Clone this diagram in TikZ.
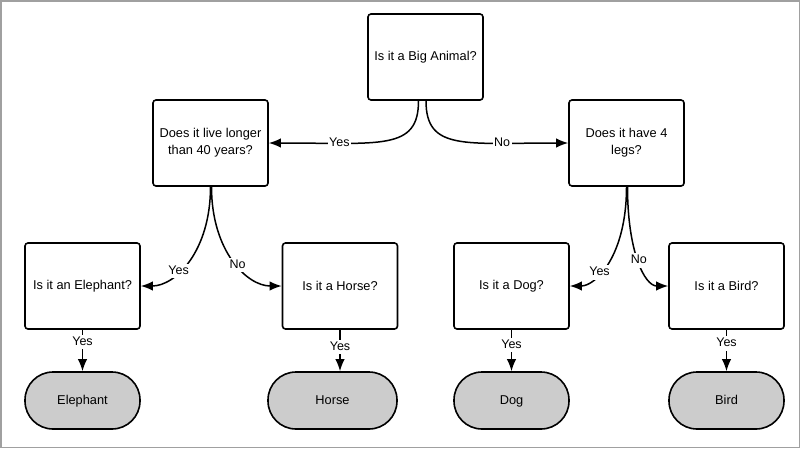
\documentclass[tikz,border=0pt]{standalone}
\usepackage{fontspec}
\setmainfont{Liberation Sans}
\usetikzlibrary{arrows.meta}
\definecolor{termgray}{RGB}{204,204,204}
\definecolor{framegray}{RGB}{160,160,160}

\begin{document}
\begin{tikzpicture}[x=1pt,y=-1pt,
        question/.style={draw,line width=1.6pt,rounded corners=3pt,minimum width=115pt,minimum height=86pt,align=center,font=\fontsize{12.8}{17}\selectfont},
        answer/.style={draw,line width=1.6pt,fill=termgray,rounded corners=28pt,minimum width=115pt,minimum height=57pt,text height=9.5pt,text depth=2.5pt,font=\fontsize{12.8}{15}\selectfont},
        link/.style={line width=1.5pt,-{Latex[length=12pt,width=9.5pt]}},
        choice/.style={fill=white,inner sep=1.5pt,text height=9pt,text depth=2.5pt,font=\fontsize{12.5}{14}\selectfont}]
        \useasboundingbox (0,0) rectangle (800,448);
        \draw[framegray,line width=1.5pt] (0.75,0.75) rectangle (799.25,447.25);
        \node[question] (big) at (425.5,57) {Is it a Big Animal?};
        \node[question] (old) at (210.5,143) {Does it live longer\\than 40 years?};
        \node[question] (legs) at (626.5,143) {Does it have 4\\legs?};
        \node[question] (eleq) at (82.5,286) {Is it an Elephant?};
        \node[question] (horq) at (340,286) {Is it a Horse?};
        \node[question] (dogq) at (511.5,286) {Is it a Dog?};
        \node[question] (birq) at (726.5,286) {Is it a Bird?};
        \node[answer] (ele) at (82.5,400.5) {Elephant};
        \node[answer,minimum width=129pt] (hor) at (332.5,400.5) {Horse};
        \node[answer] (dog) at (511.5,400.5) {Dog};
        \node[answer] (bir) at (726.5,400.5) {Bird};
        \draw[link] ([xshift=-7pt]big.south) .. controls +(0,50) and +(112,0) .. (old.east) node[choice,pos=0.75] {Yes};
        \draw[link] ([xshift=0.5pt]big.south) .. controls +(0,50) and +(-104,0) .. (legs.west) node[choice,pos=0.75] {No};
        \draw[link] (old.south) .. controls +(0,64) and +(35,0) .. (eleq.east) node[choice,pos=0.62] {Yes};
        \draw[link] ([xshift=1pt]old.south) .. controls +(0,64) and +(-35,0) .. (horq.west) node[choice,pos=0.55] {No};
        \draw[link] (legs.south) .. controls +(0,69) and +(26,0) .. (dogq.east) node[choice,pos=0.62] {Yes};
        \draw[link] ([xshift=1pt]legs.south) .. controls +(0,64) and +(-24,0) .. (birq.west) node[choice,pos=0.5] {No};
        \draw[link] (eleq.south) -- (eleq.south |- ele.north) node[choice,pos=0.3] {Yes};
        \draw[link] (horq.south) -- (horq.south |- hor.north) node[choice,pos=0.42] {Yes};
        \draw[link] (dogq.south) -- (dogq.south |- dog.north) node[choice,pos=0.37] {Yes};
        \draw[link] (birq.south) -- (birq.south |- bir.north) node[choice,pos=0.33] {Yes};
    \end{tikzpicture}
\end{document}
